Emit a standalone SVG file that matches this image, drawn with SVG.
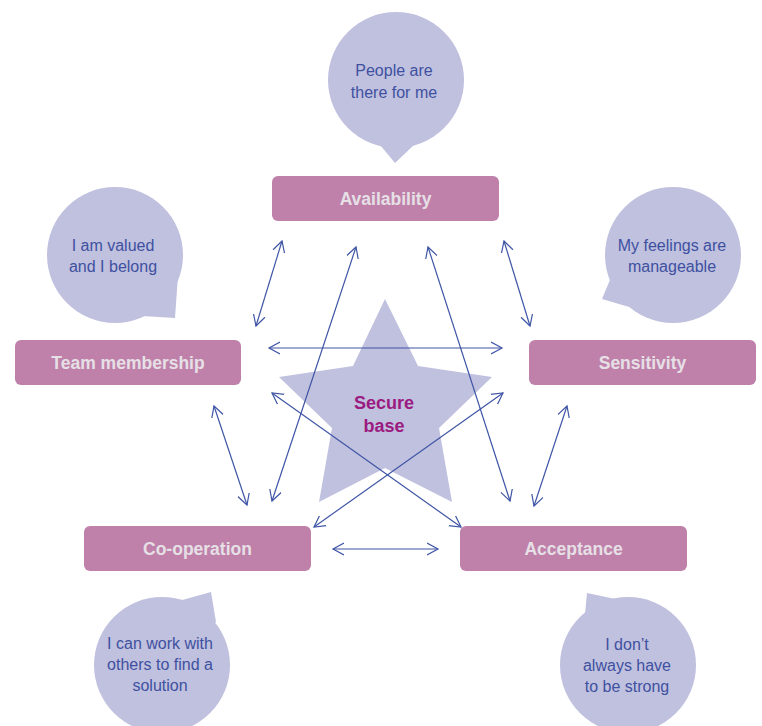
<svg xmlns="http://www.w3.org/2000/svg" width="762" height="726" viewBox="0 0 762 726">
<defs>
<style>
.box{fill:#bf80aa}
.bt{font-family:"Liberation Sans",Arial,sans-serif;font-weight:bold;font-size:17.5px;fill:#e6e0e6;text-anchor:middle}
.bub{fill:#c0c0df}
.qt{font-family:"Liberation Sans",Arial,sans-serif;font-size:16px;fill:#3e51a0;text-anchor:middle}
.star{fill:#c0c0df}
.st{font-family:"Liberation Sans",Arial,sans-serif;font-weight:bold;font-size:18px;fill:#9b1b80;text-anchor:middle}
.ln{stroke:#3f55a5;stroke-width:1.2;fill:none;marker-start:url(#ah);marker-end:url(#ah)}
</style>
<marker id="ah" markerUnits="userSpaceOnUse" markerWidth="14" markerHeight="14" refX="11" refY="6" orient="auto-start-reverse" viewBox="0 0 14 12">
<path d="M0,0 L11,6 L0,12" fill="none" stroke="#3f55a5" stroke-width="1.2"/>
</marker>
</defs>
<rect width="762" height="726" fill="#ffffff"/>

<g id="star">
<polygon class="star" points="385,299 418,366 492,377 439,428 452,502 385,468 319,502 332,428 279,377 353,366"/>
<text class="st" x="384" y="409">Secure</text>
<text class="st" x="384" y="432">base</text>
</g>

<g id="connectors">
<line class="ln" x1="282" y1="241" x2="256" y2="326"/>
<line class="ln" x1="504" y1="241" x2="530" y2="326"/>
<line class="ln" x1="269" y1="348" x2="502" y2="348"/>
<line class="ln" x1="356" y1="247" x2="272" y2="501"/>
<line class="ln" x1="428" y1="247" x2="510" y2="501"/>
<line class="ln" x1="272" y1="393" x2="461" y2="527"/>
<line class="ln" x1="503" y1="393" x2="314" y2="527"/>
<line class="ln" x1="214" y1="406" x2="247" y2="505"/>
<line class="ln" x1="567" y1="406" x2="534" y2="506"/>
<line class="ln" x1="333" y1="549" x2="438" y2="549"/>
</g>

<g id="availability">
<circle class="bub" cx="396" cy="80" r="68"/>
<polygon class="bub" points="376,140 395,163 416,143"/>
<text class="qt" x="394" y="76">People are</text>
<text class="qt" x="394" y="98">there for me</text>
<rect class="box" x="272" y="176" width="227" height="45" rx="6"/>
<text class="bt" x="385.5" y="205">Availability</text>
</g>

<g id="team-membership">
<circle class="bub" cx="115" cy="255" r="68"/>
<polygon class="bub" points="178,275 175,318 142,316 120,280"/>
<text class="qt" x="113" y="251">I am valued</text>
<text class="qt" x="113" y="272">and I belong</text>
<rect class="box" x="15" y="340" width="226" height="45" rx="6"/>
<text class="bt" x="128" y="369">Team membership</text>
</g>

<g id="sensitivity">
<circle class="bub" cx="673" cy="255" r="68"/>
<polygon class="bub" points="612,275 602,299 636,309 650,280"/>
<text class="qt" x="672" y="251">My feelings are</text>
<text class="qt" x="672" y="272">manageable</text>
<rect class="box" x="529" y="340" width="227" height="45" rx="6"/>
<text class="bt" x="642.5" y="369">Sensitivity</text>
</g>

<g id="co-operation">
<rect class="box" x="84" y="526" width="227" height="45" rx="6"/>
<text class="bt" x="197.5" y="555">Co-operation</text>
<circle class="bub" cx="162" cy="665" r="68"/>
<polygon class="bub" points="175,602 211,592 216,622 190,640"/>
<text class="qt" x="160" y="649">I can work with</text>
<text class="qt" x="160" y="670">others to find a</text>
<text class="qt" x="160" y="691">solution</text>
</g>

<g id="acceptance">
<rect class="box" x="460" y="526" width="227" height="45" rx="6"/>
<text class="bt" x="573.5" y="555">Acceptance</text>
<circle class="bub" cx="628" cy="665" r="68"/>
<polygon class="bub" points="585,614 587,593 620,600 610,640"/>
<text class="qt" x="627" y="650">I don’t</text>
<text class="qt" x="627" y="671">always have</text>
<text class="qt" x="627" y="692">to be strong</text>
</g>
</svg>
